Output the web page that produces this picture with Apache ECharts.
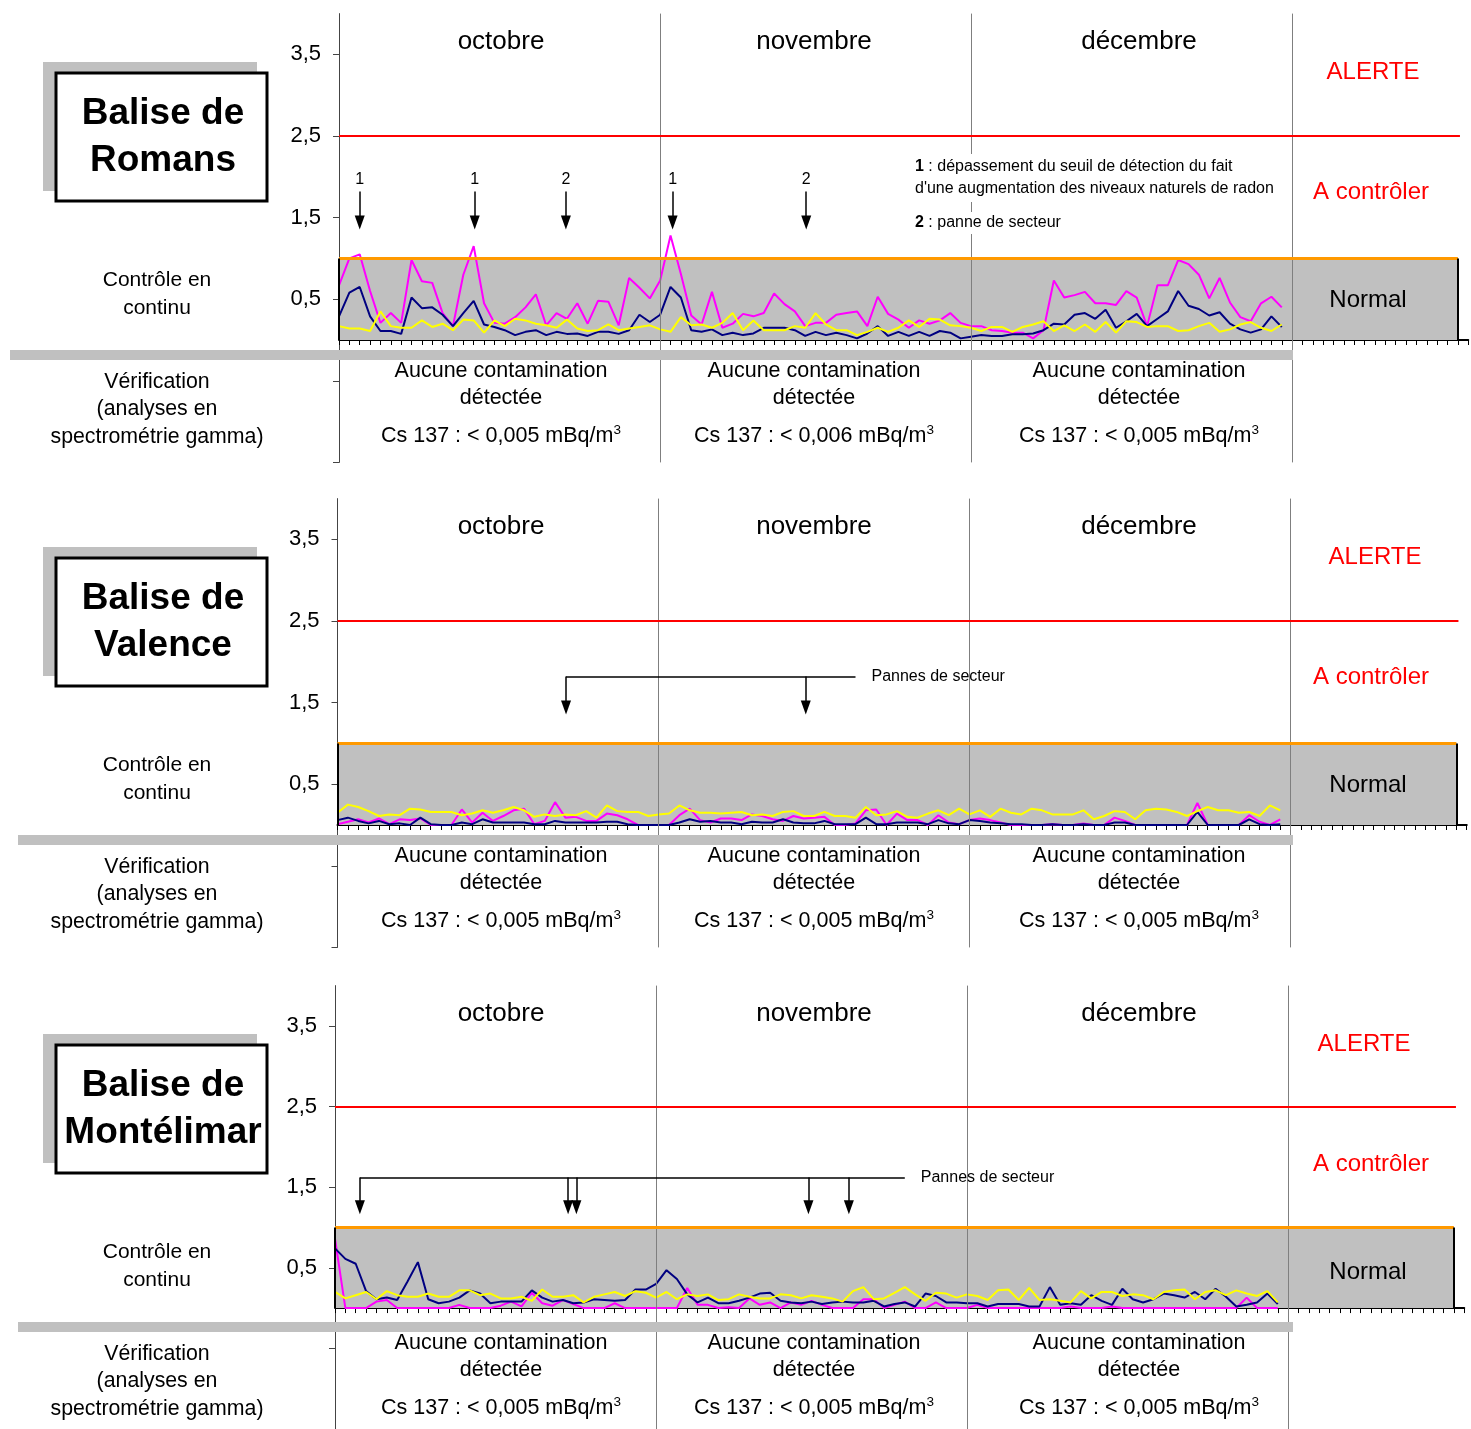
<!DOCTYPE html>
<html>
<head>
<meta charset="utf-8">
<script src="https://cdn.jsdelivr.net/npm/echarts@6/dist/echarts.min.js"></script>
<style>
  html, body { margin: 0; padding: 0; background: #fff; }
  #chart { width: 1471px; height: 1429px; }
</style>
</head>
<body>
<div id="chart"></div>
<script>
// jour 0 = 1er octobre ... jour 91 = 31 décembre
const mois = ['octobre', 'novembre', 'décembre'];
const debutsMois = [31, 61, 92];
const finAxe = 109;
const finBandeau = 108;
const seuilNormal = 1;
const seuilAlerte = 2.5;
const yTicks = [0.5, 1.5, 2.5, 3.5];

const balises = ['Balise de\nRomans', 'Balise de\nValence', 'Balise de\nMontélimar'];
const cs137 = [
	['0,005', '0,006', '0,005'],
	['0,005', '0,005', '0,005'],
	['0,005', '0,005', '0,005']
];

// Romans
const romansRose = [
	0.67, 1.0, 1.05, 0.6, 0.21, 0.33, 0.21, 0.98, 0.72, 0.7,
	0.33, 0.17, 0.8, 1.15, 0.45, 0.21, 0.2, 0.28, 0.4, 0.56,
	0.18, 0.33, 0.26, 0.45, 0.2, 0.48, 0.47, 0.18, 0.76, 0.64,
	0.51, 0.73, 1.28, 0.81, 0.3, 0.19, 0.59, 0.15, 0.2, 0.32,
	0.29, 0.33, 0.57, 0.44, 0.35, 0.17, 0.21, 0.21, 0.31, 0.33,
	0.35, 0.17, 0.53, 0.32, 0.25, 0.15, 0.24, 0.2, 0.24, 0.33,
	0.21, 0.17, 0.17, 0.12, 0.11, 0.09, 0.09, 0.02, 0.12, 0.73,
	0.52, 0.55, 0.59, 0.45, 0.45, 0.43, 0.6, 0.52, 0.17, 0.67,
	0.67, 0.98, 0.93, 0.8, 0.51, 0.76, 0.46, 0.28, 0.23, 0.45,
	0.53, 0.4
];
const romansBleu = [
	0.29, 0.58, 0.65, 0.29, 0.11, 0.11, 0.075, 0.52, 0.39, 0.4,
	0.31, 0.17, 0.33, 0.48, 0.19, 0.16, 0.12, 0.06, 0.1, 0.12,
	0.06, 0.1, 0.075, 0.08, 0.05, 0.1, 0.1, 0.075, 0.12, 0.31,
	0.22, 0.31, 0.65, 0.52, 0.12, 0.1, 0.13, 0.06, 0.09, 0.06,
	0.08, 0.15, 0.15, 0.15, 0.12, 0.05, 0.1, 0.06, 0.09, 0.06,
	0.02, 0.08, 0.17, 0.05, 0.1, 0.05, 0.1, 0.05, 0.11, 0.09,
	0.02, 0.04, 0.06, 0.05, 0.05, 0.07, 0.07, 0.08, 0.12, 0.2,
	0.19, 0.31, 0.33, 0.26, 0.37, 0.15, 0.23, 0.32, 0.17, 0.26,
	0.35, 0.6, 0.42, 0.38, 0.3, 0.34, 0.2, 0.13, 0.09, 0.13,
	0.29, 0.16
];
const romansJaune = [
	0.17, 0.14, 0.14, 0.11, 0.35, 0.17, 0.15, 0.15, 0.24, 0.16,
	0.2, 0.12, 0.25, 0.24, 0.09, 0.24, 0.17, 0.26, 0.24, 0.2,
	0.18, 0.15, 0.25, 0.14, 0.11, 0.12, 0.19, 0.12, 0.14, 0.16,
	0.18, 0.13, 0.1, 0.28, 0.18, 0.19, 0.15, 0.21, 0.33, 0.12,
	0.24, 0.12, 0.12, 0.12, 0.17, 0.15, 0.33, 0.19, 0.12, 0.12,
	0.06, 0.1, 0.15, 0.1, 0.15, 0.24, 0.16, 0.26, 0.25, 0.18,
	0.17, 0.15, 0.11, 0.16, 0.16, 0.1, 0.16, 0.19, 0.23, 0.11,
	0.18, 0.11, 0.19, 0.1, 0.22, 0.09, 0.23, 0.22, 0.16, 0.17,
	0.17, 0.11, 0.12, 0.17, 0.21, 0.1, 0.13, 0.19, 0.22, 0.15,
	0.11, 0.19
];

// Valence
const valenceRose = [
	0.01, 0.04, 0.07, 0.03, 0.08, 0.01, 0.07, 0.06, 0.08, 0,
	0, 0, 0.19, 0.03, 0.15, 0.05, 0.11, 0.18, 0.2, 0.01,
	0.05, 0.28, 0.09, 0.1, 0.05, 0.05, 0.14, 0.12, 0.07, 0,
	0, 0, 0, 0.12, 0.2, 0.06, 0.03, 0.08, 0.08, 0.06,
	0.13, 0.11, 0.07, 0.05, 0.11, 0.08, 0.09, 0.1, 0, 0,
	0.02, 0.18, 0.19, 0, 0.14, 0.06, 0.06, 0, 0.12, 0.03,
	0.01, 0.06, 0.08, 0.06, 0.03, 0, 0, 0, 0, 0.01,
	0, 0, 0.02, 0, 0, 0.09, 0.05, 0, 0, 0,
	0, 0, 0, 0.27, 0, 0, 0, 0, 0.12, 0.04,
	0, 0.07
];
const valenceBleu = [
	0.06, 0.09, 0.05, 0.02, 0.05, 0.01, 0.02, 0, 0.09, 0.01,
	0, 0, 0.03, 0.01, 0.07, 0.03, 0.03, 0.03, 0.03, 0.01,
	0.01, 0.05, 0.03, 0.03, 0.03, 0.03, 0.04, 0.04, 0.01, 0,
	0, 0, 0, 0.03, 0.07, 0.04, 0.05, 0.03, 0.03, 0.01,
	0.04, 0.03, 0.03, 0.07, 0.03, 0.02, 0.02, 0.05, 0.01, 0.01,
	0.01, 0.09, 0.01, 0.01, 0.03, 0.03, 0.03, 0.01, 0.06, 0.02,
	0.01, 0.06, 0.05, 0.03, 0.02, 0.01, 0.01, 0, 0, 0.01,
	0, 0, 0.01, 0, 0, 0.03, 0.03, 0, 0, 0,
	0, 0, 0, 0.16, 0, 0, 0, 0, 0.07, 0.01,
	0, 0.01
];
const valenceJaune = [
	0.15, 0.25, 0.22, 0.17, 0.11, 0.13, 0.12, 0.2, 0.19, 0.16,
	0.16, 0.16, 0.12, 0.14, 0.18, 0.15, 0.18, 0.22, 0.18, 0.1,
	0.13, 0.11, 0.13, 0.12, 0.17, 0.09, 0.24, 0.17, 0.16, 0.16,
	0.11, 0.13, 0.14, 0.24, 0.18, 0.15, 0.15, 0.14, 0.15, 0.16,
	0.12, 0.13, 0.11, 0.16, 0.17, 0.11, 0.11, 0.16, 0.11, 0.11,
	0.09, 0.22, 0.12, 0.13, 0.17, 0.1, 0.09, 0.14, 0.18, 0.12,
	0.2, 0.13, 0.18, 0.1, 0.2, 0.15, 0.13, 0.2, 0.18, 0.13,
	0.13, 0.13, 0.18, 0.07, 0.11, 0.17, 0.16, 0.07, 0.18, 0.2,
	0.19, 0.16, 0.11, 0.17, 0.22, 0.18, 0.18, 0.15, 0.16, 0.11,
	0.24, 0.18
];

// Montélimar
const montelimarRose = [
	0.86, 0, 0, 0, 0.08, 0.1, 0, 0, 0, 0,
	0, 0, 0.04, 0, 0, 0, 0.03, 0.08, 0.02, 0.19,
	0.06, 0.03, 0.1, 0.05, 0, 0, 0, 0.06, 0, 0,
	0, 0, 0, 0, 0.25, 0.04, 0.04, 0, 0.01, 0,
	0.12, 0.04, 0.07, 0, 0.07, 0.04, 0.09, 0.04, 0, 0,
	0, 0.11, 0.11, 0, 0.04, 0.08, 0, 0, 0.07, 0,
	0, 0, 0.04, 0, 0, 0, 0, 0, 0, 0,
	0, 0.02, 0, 0, 0, 0.02, 0, 0, 0, 0,
	0, 0, 0, 0, 0, 0, 0, 0, 0.13, 0,
	0, 0
];
const montelimarBleu = [
	0.74, 0.61, 0.55, 0.21, 0.11, 0.13, 0.1, 0.33, 0.57, 0.11,
	0.06, 0.08, 0.13, 0.22, 0.18, 0.06, 0.08, 0.08, 0.08, 0.22,
	0.13, 0.08, 0.1, 0.06, 0.07, 0.11, 0.1, 0.09, 0.1, 0.23,
	0.23, 0.3, 0.47, 0.36, 0.17, 0.07, 0.13, 0.06, 0.06, 0.09,
	0.13, 0.18, 0.19, 0.09, 0.07, 0.06, 0.08, 0.05, 0.07, 0.08,
	0.07, 0.07, 0.09, 0.02, 0.05, 0.07, 0.02, 0.18, 0.15, 0.07,
	0.07, 0.06, 0.06, 0.02, 0.05, 0.05, 0.05, 0.02, 0.02, 0.26,
	0.04, 0.06, 0.04, 0.16, 0.09, 0.04, 0.24, 0.11, 0.07, 0.11,
	0.18, 0.16, 0.13, 0.2, 0.11, 0.24, 0.14, 0.02, 0.04, 0.07,
	0.18, 0.05
];
const montelimarJaune = [
	0.2, 0.12, 0.16, 0.2, 0.11, 0.21, 0.16, 0.14, 0.14, 0.18,
	0.14, 0.14, 0.22, 0.22, 0.16, 0.18, 0.12, 0.12, 0.14, 0.09,
	0.23, 0.14, 0.14, 0.16, 0.07, 0.14, 0.17, 0.2, 0.15, 0.21,
	0.19, 0.13, 0.2, 0.11, 0.17, 0.15, 0.17, 0.1, 0.11, 0.17,
	0.14, 0.12, 0.12, 0.17, 0.16, 0.12, 0.16, 0.14, 0.12, 0.08,
	0.21, 0.26, 0.11, 0.12, 0.19, 0.26, 0.17, 0.09, 0.19, 0.18,
	0.13, 0.17, 0.15, 0.1, 0.22, 0.23, 0.1, 0.25, 0.1, 0.11,
	0.09, 0.07, 0.21, 0.12, 0.2, 0.2, 0.15, 0.17, 0.16, 0.11,
	0.2, 0.22, 0.23, 0.11, 0.2, 0.22, 0.16, 0.22, 0.18, 0.15,
	0.21, 0.07
];

// flèches (jour, repère)
const flechesRomans = [[2, '1'], [13.1, '1'], [21.9, '2'], [32.2, '1'], [45.1, '2']];
const flechesValence = [22.06, 45.2];
const flechesMontelimar = [2.4, 22.5, 23.3, 45.7, 49.6];

const FF = "'Liberation Sans', Arial, sans-serif";
const UX = 10.36; // px par jour
const UY = 81.6;  // px par unité
const centresMoisPx = [501, 814, 1139];

const panneaux = [
	{ x0: 339, y0: 340, rose: romansRose, bleu: romansBleu, jaune: romansJaune, alerteX: 1373, barreX: 10 },
	{ x0: 337.5, y0: 825, rose: valenceRose, bleu: valenceBleu, jaune: valenceJaune, alerteX: 1375, barreX: 18 },
	{ x0: 335, y0: 1312, rose: montelimarRose, bleu: montelimarBleu, jaune: montelimarJaune, alerteX: 1364, barreX: 18 }
];

function texte(x, y, txt, size, extra) {
	return {
		type: 'text',
		z: 50,
		style: Object.assign({
			x: x, y: y, text: txt,
			fontSize: size, fontFamily: FF, fill: '#000',
			align: 'center', verticalAlign: 'middle',
			textAlign: 'center', textVerticalAlign: 'middle'
		}, extra || {})
	};
}

const grid = [], xAxis = [], yAxis = [], series = [], graphic = [];

panneaux.forEach((p, k) => {
	const dy = p.y0 - 340;

	grid.push({ left: p.x0, top: p.y0 - 4 * UY, width: finAxe * UX, height: 5.5 * UY });
	xAxis.push({
		gridIndex: k, type: 'value', min: 0, max: finAxe, interval: 1,
		axisLine: { onZero: true, lineStyle: { color: '#000', width: 2 } },
		axisTick: { length: 5, lineStyle: { color: '#000', width: 1 } },
		axisLabel: { show: false },
		splitLine: { show: false }
	});
	yAxis.push({
		gridIndex: k, type: 'value', min: -1.5, max: 4, interval: 1,
		axisLine: { show: true, onZero: false, lineStyle: { color: '#444', width: 1 } },
		axisTick: { show: true, length: 6, lineStyle: { color: '#444' }, customValues: [-1.5, -0.5, 0.5, 1.5, 2.5, 3.5] },
		axisLabel: {
			fontSize: 22, color: '#000', fontFamily: FF, margin: 18,
			formatter: v => (yTicks.indexOf(v) >= 0 ? String(v).replace('.', ',') : '')
		},
		splitLine: { show: false }
	});

	const base = { type: 'line', xAxisIndex: k, yAxisIndex: k, data: [], silent: true };

	// séparations des mois
	series.push(Object.assign({}, base, {
		z: 1,
		markLine: {
			silent: true, symbol: 'none', label: { show: false },
			lineStyle: { color: '#7f7f7f', width: 1, type: 'solid' },
			data: debutsMois.map(d => [{ coord: [d, -1.5] }, { coord: [d, 4] }])
		}
	}));

	// zone "Normal"
	series.push(Object.assign({}, base, {
		z: 2,
		markArea: {
			silent: true, itemStyle: { color: '#c0c0c0' },
			data: [[{ coord: [0, 0] }, { coord: [finBandeau, seuilNormal] }]]
		}
	}));

	// seuils
	series.push(Object.assign({}, base, {
		z: 3,
		markLine: {
			silent: true, symbol: 'none', label: { show: false },
			data: [
				[{ coord: [0, seuilNormal], lineStyle: { color: '#ff9900', width: 3, type: 'solid' } }, { coord: [finBandeau, seuilNormal] }],
				[{ coord: [0, seuilAlerte], lineStyle: { color: '#ff0000', width: 2, type: 'solid' } }, { coord: [finBandeau + 0.2, seuilAlerte] }],
				[{ coord: [finBandeau, 0], lineStyle: { color: '#000', width: 2, type: 'solid' } }, { coord: [finBandeau, seuilNormal] }],
				[{ coord: [0, 0], lineStyle: { color: '#000', width: 2, type: 'solid' } }, { coord: [0, seuilNormal] }]
			]
		}
	}));

	// mesures
	[[p.rose, '#ff00ff'], [p.bleu, '#000080'], [p.jaune, '#ffff00']].forEach(([vals, col]) => {
		series.push({
			type: 'line', xAxisIndex: k, yAxisIndex: k, z: 4, silent: true,
			symbol: 'none', showSymbol: false,
			lineStyle: { color: col, width: 2 },
			data: vals.map((v, i) => [i, v])
		});
	});

	// flèches
	const lab = { show: true, fontSize: 16, color: '#000', fontFamily: FF };
	let fleches = [];
	if (k === 0) {
		fleches = flechesRomans.map(([x, t]) => [
			{ coord: [x, 1.82], label: Object.assign({ position: 'start', formatter: t, distance: 4 }, lab) },
			{ coord: [x, 1.44] }
		]);
	} else if (k === 1) {
		fleches = flechesValence.map(x => [{ coord: [x, 1.82] }, { coord: [x, 1.44] }]);
		fleches.push([
			{ coord: [flechesValence[0], 1.82], symbol: 'none', label: Object.assign({ position: 'end', formatter: 'Pannes de secteur', distance: 16 }, lab) },
			{ coord: [50, 1.82], symbol: 'none' }
		]);
	} else {
		fleches = flechesMontelimar.map(x => [{ coord: [x, 1.62] }, { coord: [x, 1.25] }]);
		fleches.push([
			{ coord: [flechesMontelimar[0], 1.62], symbol: 'none', label: Object.assign({ position: 'end', formatter: 'Pannes de secteur', distance: 16 }, lab) },
			{ coord: [55, 1.62], symbol: 'none' }
		]);
	}
	series.push(Object.assign({}, base, {
		z: 5,
		markLine: {
			silent: true, symbol: ['none', 'triangle'], symbolSize: [10, 14],
			label: { show: false },
			lineStyle: { color: '#000', width: 1.5, type: 'solid' },
			data: fleches
		}
	}));

	// cadre du titre
	graphic.push({ type: 'rect', z: 40, shape: { x: 43, y: 62 + dy, width: 214, height: 129 }, style: { fill: '#c0c0c0' } });
	graphic.push({ type: 'rect', z: 41, shape: { x: 56, y: 73 + dy, width: 211, height: 128 }, style: { fill: '#fff', stroke: '#000', lineWidth: 3 } });
	graphic.push(texte(163, 137 + dy, balises[k], 37, { fontWeight: 'bold', lineHeight: 47 }));

	graphic.push(texte(157, 294 + dy, 'Contrôle en\ncontinu', 21, { lineHeight: 28 }));
	graphic.push({ type: 'rect', z: 45, shape: { x: p.barreX, y: 350 + dy, width: 1293 - p.barreX, height: 10 }, style: { fill: '#c0c0c0' } });
	graphic.push(texte(157, 409.5 + dy, 'Vérification\n(analyses en\nspectrométrie gamma)', 21.3, { lineHeight: 27.5 }));

	mois.forEach((m, j) => {
		const cx = centresMoisPx[j];
		graphic.push(texte(cx, 42 + dy, m, 26));
		graphic.push(texte(cx, 384.5 + dy, 'Aucune contamination\ndétectée', 21.5, { lineHeight: 27 }));
		graphic.push(texte(cx, 436 + dy, '{t|Cs 137 : < ' + cs137[k][j] + ' mBq/m}{s|3}', 21.5, {
			rich: {
				t: { fontSize: 21.5, fontFamily: FF, fill: '#000', lineHeight: 26 },
				s: { fontSize: 13.5, fontFamily: FF, fill: '#000', verticalAlign: 'top', lineHeight: 26 }
			}
		}));
	});

	graphic.push(texte(p.alerteX, 72 + dy, 'ALERTE', 24, { fill: '#ff0000' }));
	graphic.push(texte(1371, 192 + dy, 'A contrôler', 24, { fill: '#ff0000' }));
	graphic.push(texte(1368, 300 + dy, 'Normal', 24));
});

// légende des repères (Romans)
graphic.push(texte(915, 178, '{b|1} : dépassement du seuil de détection du fait\nd\'une augmentation des niveaux naturels de radon', 16, {
	align: 'left', textAlign: 'left', lineHeight: 22, backgroundColor: '#fff', padding: [2, 2, 2, 0],
	rich: { b: { fontWeight: 'bold', fontSize: 16, fontFamily: FF, fill: '#000' } }
}));
graphic.push(texte(915, 223, '{b|2} : panne de secteur', 16, {
	align: 'left', textAlign: 'left', backgroundColor: '#fff', padding: [3, 2, 3, 0],
	rich: { b: { fontWeight: 'bold', fontSize: 16, fontFamily: FF, fill: '#000' } }
}));

const chart = echarts.init(document.getElementById('chart'));
chart.setOption({
	animation: false,
	backgroundColor: '#fff',
	textStyle: { fontFamily: FF },
	grid: grid,
	xAxis: xAxis,
	yAxis: yAxis,
	series: series,
	graphic: graphic
});
window.addEventListener('resize', () => chart.resize());
</script>
</body>
</html>
